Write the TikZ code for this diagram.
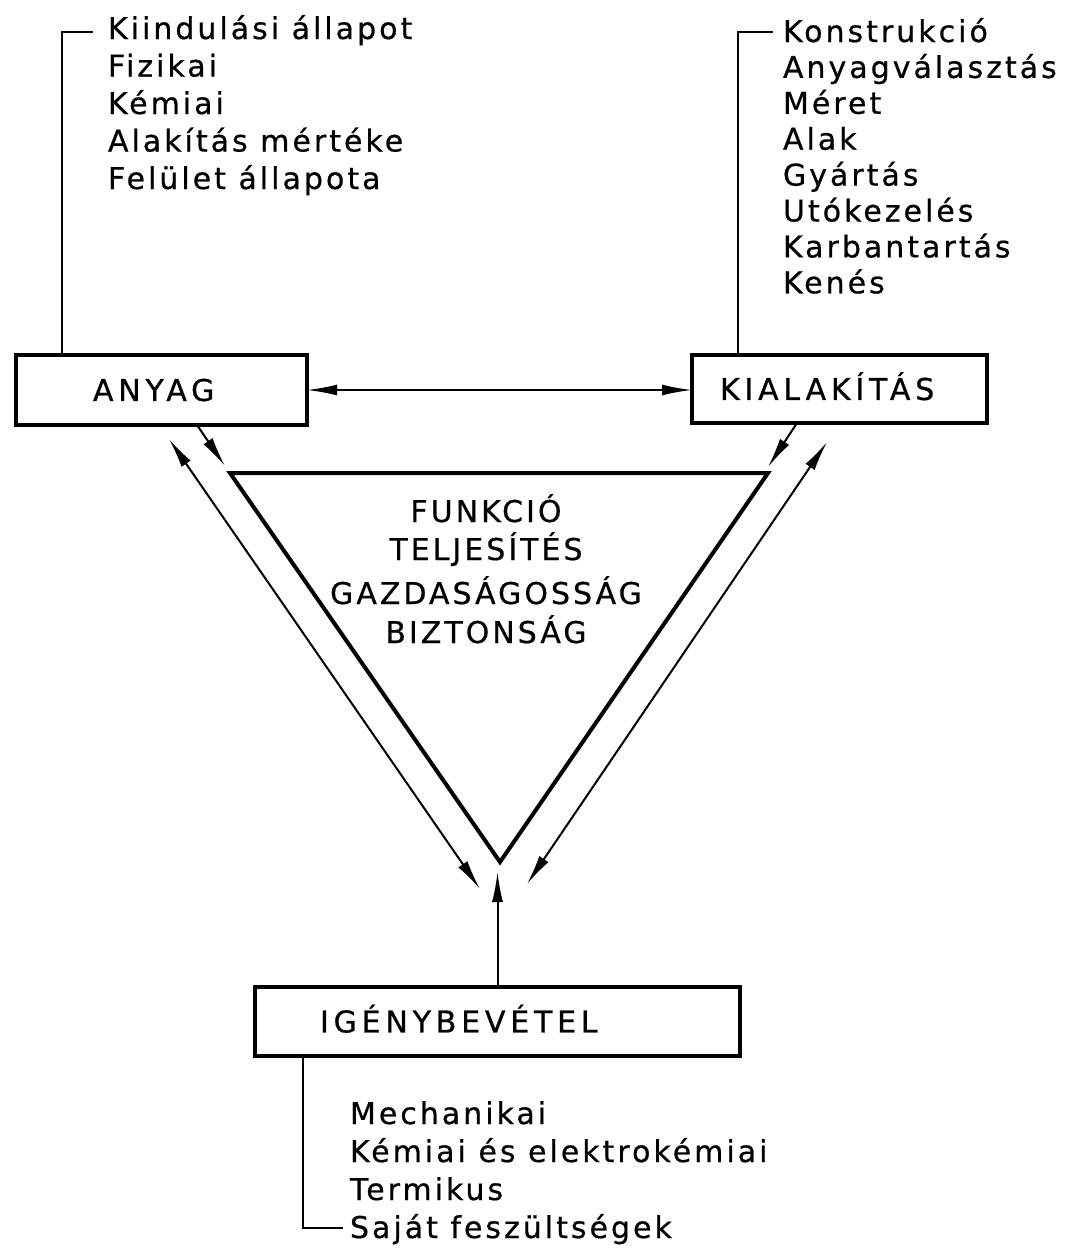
\documentclass[tikz,border=0pt]{standalone}
\usepackage{fontspec}
\newfontfamily\lettering[LetterSpace=10,FakeBold=0.6]{DejaVu Sans}
\newfontfamily\boxlettering[LetterSpace=16,FakeBold=0.8]{DejaVu Sans}
\usetikzlibrary{arrows.meta,calc}
\begin{document}
\begin{tikzpicture}[x=1pt,y=-1pt,
  every node/.style={inner sep=0pt,outer sep=0pt},
  txt/.style={font=\lettering\fontsize{30}{36}\selectfont,anchor=base west},
  ctr/.style={font=\lettering\fontsize{30}{36}\selectfont,anchor=base},
  box/.style={draw,line width=3.5pt,anchor=north west,align=left,
    font=\boxlettering\fontsize{30}{36}\selectfont,text height=21.9pt,text depth=0pt},
  tri/.style={line width=4pt,line join=miter},
  tip/.style={},
  arr/.style={line width=2pt,-{Latex[length=30pt,width=11pt]}},
  darr/.style={line width=2pt,{Latex[length=30pt,width=11pt]}-{Latex[length=30pt,width=11pt]}},
  lead/.style={line width=1.5pt}
]
\useasboundingbox[fill=white] (0,0) rectangle (1066,1250);

% boxes
\node[box,text width=137pt,inner xsep=77pt,minimum height=70pt] (anyag) at (16,355) {ANYAG};
\node[box,text width=239pt,inner xsep=28pt,minimum height=68pt] (kial) at (692,355) {KIALAKÍTÁS};
\node[box,text width=355pt,inner xsep=65pt,minimum height=69pt] (ig) at (255,987) {IGÉNYBEVÉTEL};

% triangle
\coordinate (tl) at (230,473);
\coordinate (tr) at (768,473);
\coordinate (tb) at (500,862);
\draw[tri] (tl) -- (tr) -- (tb) -- cycle;

% centre text
\node[ctr] (c1) at (486,522) {FUNKCIÓ};
\node[ctr] (c2) at (486,560) {TELJESÍTÉS};
\node[ctr] (c3) at (486,604) {GAZDASÁGOSSÁG};
\node[ctr] (c4) at (486,643) {BIZTONSÁG};

% left list
\coordinate (lk) at (93,32);
\node[txt] (a1) at (108,39) {Kiindulási állapot};
\node[txt] (a2) at (108,76.5) {Fizikai};
\node[txt] (a3) at (108,114) {Kémiai};
\node[txt] (a4) at (108,151.5) {Alakítás mértéke};
\node[txt] (a5) at (108,189) {Felület állapota};
\draw[lead] (lk) -| ($(anyag.north west)+(46,0)$);

% right list
\coordinate (lr) at (773,32);
\node[txt] (b1) at (783,42) {Konstrukció};
\node[txt] (b2) at (783,77.9) {Anyagválasztás};
\node[txt] (b3) at (783,113.8) {Méret};
\node[txt] (b4) at (783,149.7) {Alak};
\node[txt] (b5) at (783,185.6) {Gyártás};
\node[txt] (b6) at (783,221.5) {Utókezelés};
\node[txt] (b7) at (783,257.4) {Karbantartás};
\node[txt] (b8) at (783,293.3) {Kenés};
\draw[lead] (lr) -| ($(kial.north west)+(46,0)$);

% bottom list
\coordinate (lb) at (343,1228);
\node[txt] (d1) at (350,1124) {Mechanikai};
\node[txt] (d2) at (350,1162) {Kémiai és elektrokémiai};
\node[txt] (d3) at (350,1200) {Termikus};
\node[txt] (d4) at (350,1238) {Saját feszültségek};
\draw[lead] ($(ig.south west)+(48,0)$) |- (lb);

% connectors
\draw[darr] (anyag.east) -- (anyag.east -| kial.west);
\draw[arr] ($(anyag.south west)+(181,0)$) -- ($(tl)+(-5,-7)$);
\draw[darr] ($(tl)+(-61,-34)$) -- ($(tb)+(-20,27)$);
\draw[arr] ($(kial.south west)+(105,0)$) -- ($(tr)+(0,-6)$);
\draw[darr] ($(tr)+(59,-31)$) -- ($(tb)+(27,22)$);
\draw[arr] (ig.north) -- ++(0,-115);
\end{tikzpicture}
\end{document}
